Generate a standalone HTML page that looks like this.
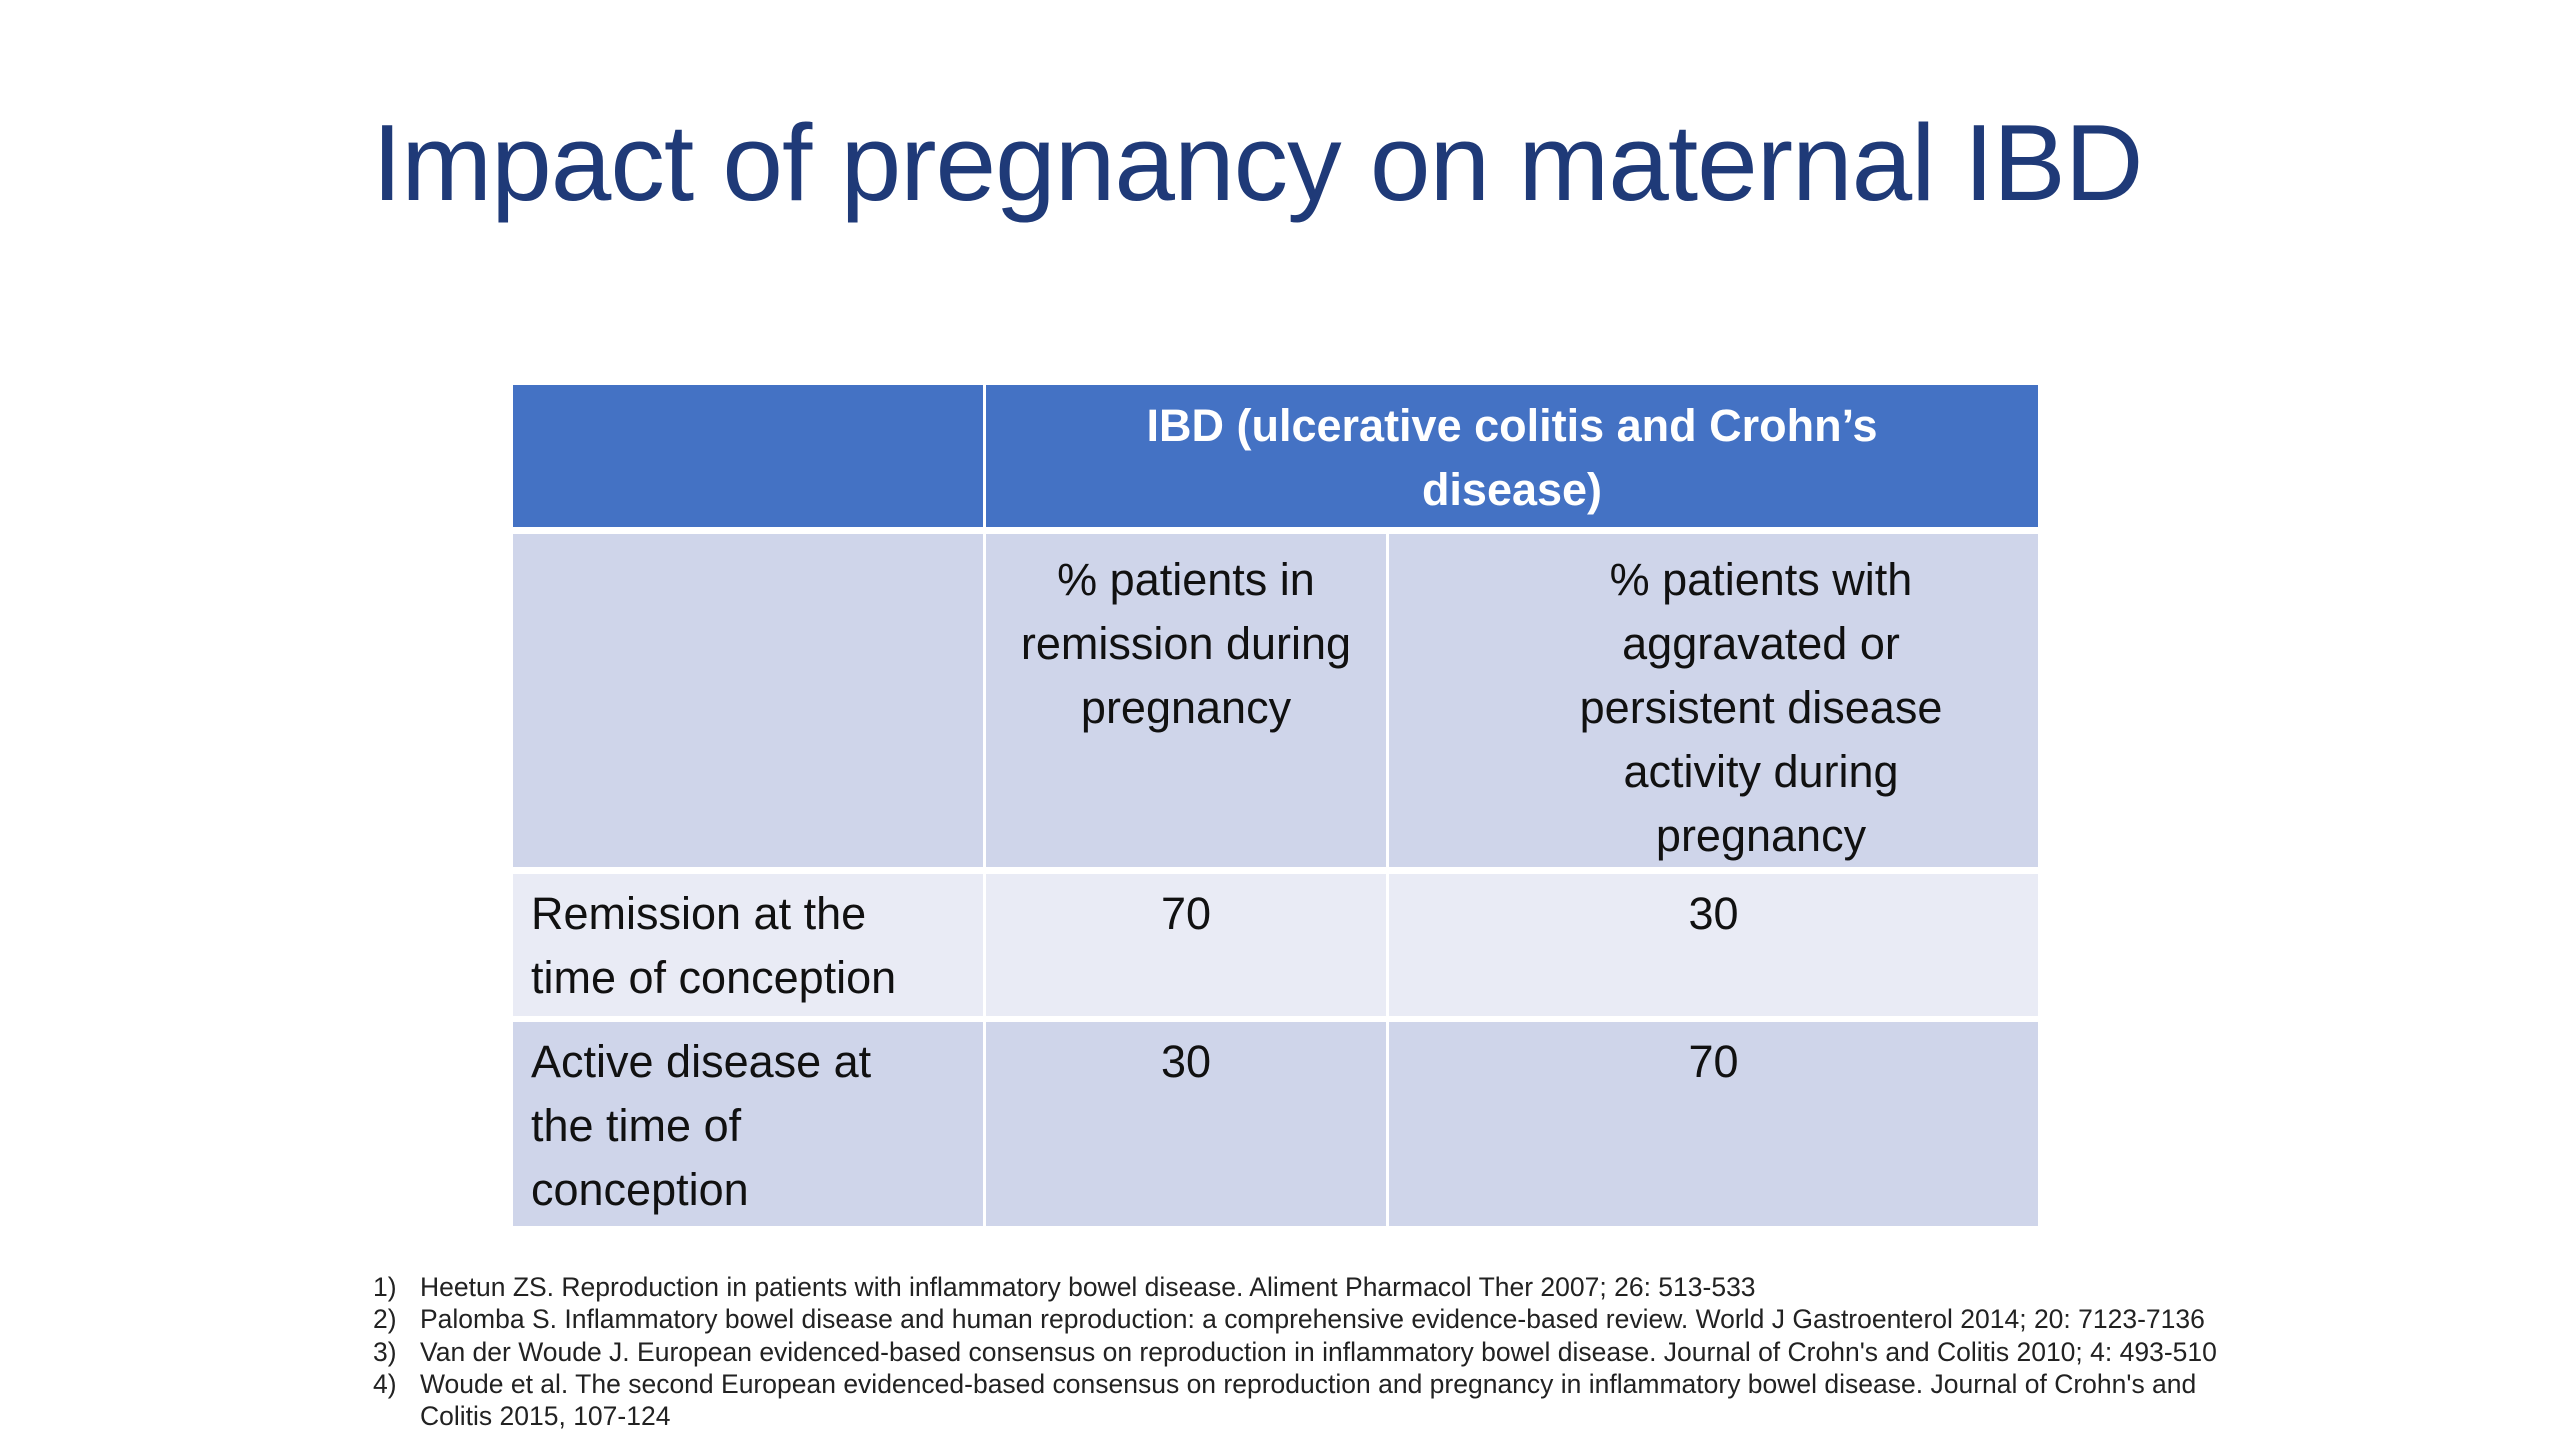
<!DOCTYPE html>
<html><head><meta charset="utf-8"><style>
body{margin:0;width:2560px;height:1440px;background:#fff;position:relative;overflow:hidden;font-family:"Liberation Sans",sans-serif}
#title{position:absolute;left:372px;top:100px;font-size:109px;color:#1f3a78;white-space:nowrap;letter-spacing:-1px}
.c{position:absolute;box-sizing:border-box;font-size:45px;line-height:64px;color:#111;text-align:center;white-space:nowrap}
.h{background:#4472c4;color:#fff;font-weight:bold}
.s{background:#cfd5ea}
.r1{background:#e9ebf5}
.l{text-align:left;padding-left:18px}
#notes{position:absolute;left:373px;top:1271px;font-size:26.5px;line-height:32.3px;color:#222}
#notes div{position:relative;padding-left:47px;white-space:nowrap}
#notes span{position:absolute;left:0}
</style></head><body>
<div id="title">Impact of pregnancy on maternal IBD</div>
<div>
<div class="c h" style="left:513px;top:385px;width:470px;height:142px"></div>
<div class="c h" style="left:986px;top:385px;width:1052px;height:142px;padding-top:9px">IBD (ulcerative colitis and Crohn’s<br>disease)</div>
<div class="c s" style="left:513px;top:534px;width:470px;height:333px"></div>
<div class="c s" style="left:986px;top:534px;width:400px;height:333px;padding-top:14px">% patients in<br>remission during<br>pregnancy</div>
<div class="c s" style="left:1389px;top:534px;width:649px;height:333px;padding-top:14px;padding-left:95px">% patients with<br>aggravated or<br>persistent disease<br>activity during<br>pregnancy</div>
<div class="c r1 l" style="left:513px;top:874px;width:470px;height:142px;padding-top:8px">Remission at the<br>time of conception</div>
<div class="c r1" style="left:986px;top:874px;width:400px;height:142px;padding-top:8px">70</div>
<div class="c r1" style="left:1389px;top:874px;width:649px;height:142px;padding-top:8px">30</div>
<div class="c s l" style="left:513px;top:1022px;width:470px;height:204px;padding-top:8px">Active disease at<br>the time of<br>conception</div>
<div class="c s" style="left:986px;top:1022px;width:400px;height:204px;padding-top:8px">30</div>
<div class="c s" style="left:1389px;top:1022px;width:649px;height:204px;padding-top:8px">70</div>
</div>
<div id="notes">
<div><span>1)</span>Heetun ZS. Reproduction in patients with inflammatory bowel disease. Aliment Pharmacol Ther 2007; 26: 513-533</div>
<div><span>2)</span>Palomba S. Inflammatory bowel disease and human reproduction: a comprehensive evidence-based review. World J Gastroenterol 2014; 20: 7123-7136</div>
<div><span>3)</span>Van der Woude J. European evidenced-based consensus on reproduction in inflammatory bowel disease. Journal of Crohn's and Colitis 2010; 4: 493-510</div>
<div><span>4)</span>Woude et al. The second European evidenced-based consensus on reproduction and pregnancy in inflammatory bowel disease. Journal of Crohn's and<br>Colitis 2015, 107-124</div>
</div>
</body></html>
